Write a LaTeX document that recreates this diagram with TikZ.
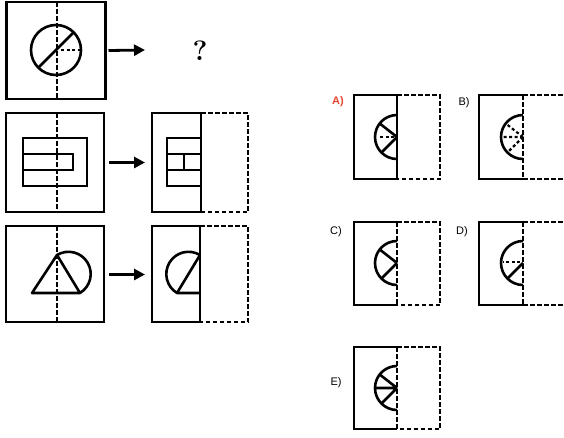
\documentclass[tikz,border=0pt]{standalone}
\usepackage{fontspec}
\newfontfamily\labfont{Liberation Sans}
\usetikzlibrary{arrows.meta}
\definecolor{labred}{HTML}{E8452C}
\begin{document}
\begin{tikzpicture}[x=1pt,y=-1pt,
  ln/.style={line width=2.6pt},
  dl/.style={line width=2.5pt, dash pattern=on 4.5pt off 2.5pt},
  dr/.style={line width=2.2pt, dash pattern=on 3pt off 2.5pt},
  box/.style={draw, line width=2.6pt, inner sep=0pt, outer sep=0pt},
  arr/.style={line width=2.8pt, -{Triangle[length=11pt,width=11pt]}},
  lab/.style={font=\labfont\fontsize{11}{13}\selectfont, inner sep=0pt}]
\useasboundingbox (0,0) rectangle (564,437);

% ---------- row 1 ----------
\node[box, minimum width=99pt, minimum height=97pt] (s1) at (56,50.5) {};
\draw[dl] (57,2) -- (57,99);
\draw[ln] (56,50) circle[radius=25];
\draw[ln] (56,50) ++(135:25) -- ++(315:50);
\draw[dr] (61,50) -- (80,50);
\node[font=\bfseries\fontsize{28}{32}\selectfont, inner sep=0pt] (q) at (200,51) {?};
\coordinate (t1) at (145,50);
\draw[arr] ([xshift=3pt]s1.east) -- (t1);

% ---------- row 2 ----------
\node[box, minimum width=98pt, minimum height=99pt] (s2) at (55,162.5) {};
\draw[dl] (57,113) -- (57,212);
\draw[ln] (23,138) rectangle (87,186);
\draw[ln] (23,154) rectangle (73,170);
\node[box, minimum width=49pt, minimum height=99pt] (p2) at (176.5,162.5) {};
\draw[dl] (p2.north east) -- (248,113) -- (248,212) -- (p2.south east);
\draw[ln] (201,138) -- (167,138) -- (167,186) -- (201,186);
\draw[ln] (167,154) -- (201,154) (167,170) -- (201,170) (184,154) -- (184,170);
\draw[arr] ([xshift=5pt]s2.east) -- ([xshift=-7pt]p2.west);

% ---------- row 3 ----------
\node[box, minimum width=98pt, minimum height=96pt] (s3) at (55,274) {};
\draw[dl] (57,226) -- (57,322);
\draw[ln, line join=round] (80,293) -- (32,293) -- (57,255) -- cycle;
\draw[ln] (57,255) arc[start angle=-121.2, end angle=58.8, radius=22.2];
\node[box, minimum width=48pt, minimum height=96pt] (p3) at (176,274) {};
\draw[dl] (p3.north east) -- (248,226) -- (248,322) -- (p3.south east);
\draw[ln] (200,255) arc[start angle=301.2, end angle=121.2, radius=22.2];
\draw[ln, line join=round] (200,255) -- (177,293) -- (200,293);
\draw[arr] ([xshift=5pt,yshift=-0.5pt]s3.east) -- ([xshift=-7pt,yshift=-0.5pt]p3.west);

% ---------- option A ----------
\node[box, minimum width=43pt, minimum height=84pt] (pa) at (375.5,137) {};
\draw[dl] (pa.north east) -- (440,95) -- (440,179) -- (pa.south east);
\draw[ln] (397,115) arc[start angle=270, end angle=90, radius=22];
\draw[ln] (397,137) -- ++(218:22) (397,137) -- ++(135:22);
\draw[dr] (394,137) -- (378,137);
\node[lab, text=labred, font=\labfont\bfseries\fontsize{11}{13}\selectfont] (la) at (338,102) {A)};

% ---------- option B ----------
\draw[ln] (523,95) -- (479,95) -- (479,179) -- (523,179);
\draw[dl] (523,95) -- (523,179);
\draw[dl] (523,95) -- (564,95) (523,179) -- (564,179);
\draw[ln] (523,115) arc[start angle=270, end angle=90, radius=22];
\draw[dr] (523,137) -- ++(218:22) (523,137) -- ++(180:21) (523,137) -- ++(135:22);
\node[lab] (lb) at (464,103) {B)};

% ---------- option C ----------
\draw[ln] (397,222) -- (354,222) -- (354,305) -- (397,305);
\draw[dl] (397,222) -- (397,305);
\draw[dl] (397,222) -- (440,222) -- (440,305) -- (397,305);
\draw[ln] (397,241) arc[start angle=270, end angle=90, radius=22];
\draw[ln] (397,263) -- ++(218:22) (397,263) -- ++(135:22);
\node[lab] (lc) at (336,232) {C)};

% ---------- option D ----------
\draw[ln] (523,222) -- (479,222) -- (479,305) -- (523,305);
\draw[dl] (523,222) -- (523,305);
\draw[dl] (523,222) -- (564,222) (523,305) -- (564,305);
\draw[ln] (523,241) arc[start angle=270, end angle=90, radius=22];
\draw[dr] (520,262) -- (503,262);
\draw[ln] (523,263) -- ++(135:22);
\node[lab] (ld) at (462,232) {D)};

% ---------- option E ----------
\draw[ln] (397,347) -- (354,347) -- (354,429) -- (397,429);
\draw[dl] (397,347) -- (397,429);
\draw[dl] (397,347) -- (440,347) -- (440,429) -- (397,429);
\draw[ln] (397,366) arc[start angle=270, end angle=90, radius=22];
\draw[ln] (397,388) -- ++(218:22) (397,388) -- ++(180:22) (397,388) -- ++(135:22);
\node[lab] (le) at (336,383) {E)};
\end{tikzpicture}
\end{document}
